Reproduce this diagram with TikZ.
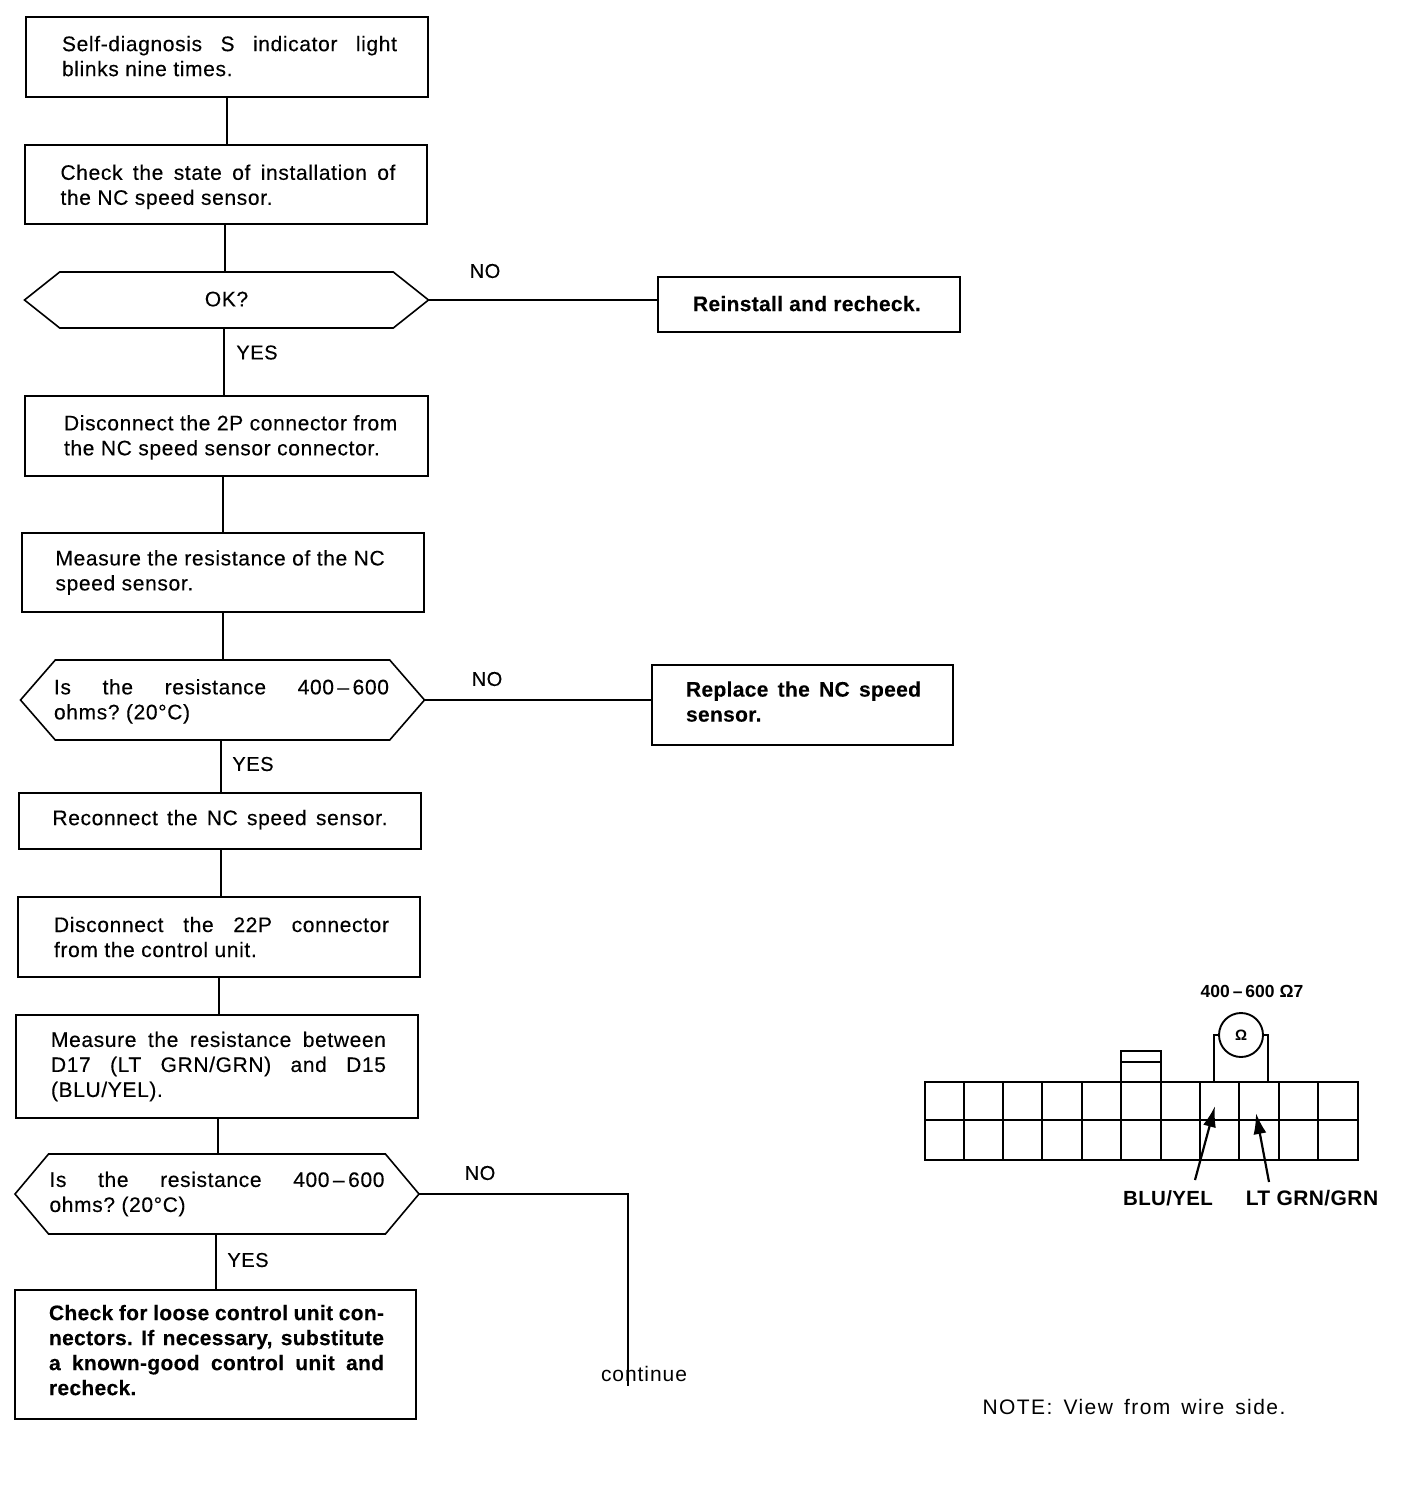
\documentclass[tikz,border=0pt]{standalone}
\usepackage{fontspec}
\setmainfont{Liberation Sans}
\usetikzlibrary{shapes.symbols,arrows.meta}
\newcommand\lineJ[2][0pt]{\hspace*{#1}\makebox[335pt][s]{#2}}
\newcommand\lineL[2][0pt]{\hspace*{#1}\makebox[335pt][l]{#2}}
\newcommand\nudgedown[1]{\rule{0pt}{\dimexpr 16pt+2\dimexpr #1\relax\relax}}
\newcommand\nudgeup[1]{\rule[-\dimexpr 5pt+2\dimexpr #1\relax\relax]{0pt}{\dimexpr 5pt+2\dimexpr #1\relax\relax}}
\newcommand\depthrule[1]{\rule[-#1]{0pt}{#1}}
\tikzset{
  x=1pt,y=-1pt,
  every node/.style={inner sep=0pt,outer sep=0pt},
  txt/.style={font=\fontsize{21}{25}\selectfont\frenchspacing\addfontfeature{LetterSpace=3,FakeBold=0.25}},
  boldtxt/.style={font=\fontsize{21}{25}\selectfont\frenchspacing\bfseries\addfontfeature{LetterSpace=1.5,FakeBold=0.2}},
  stepbox/.style={draw,line width=1.6pt,align=left,txt,minimum width=#1},
  stepbox/.default=402pt,
  hexbox/.style 2 args={draw,line width=1.6pt,align=left,txt,shape=signal,signal to=east and west,signal pointer angle=#2,minimum width=404pt,minimum height=#1},
  link/.style={line width=1.8pt},
  lab/.style={font=\fontsize{20}{25}\selectfont\addfontfeature{LetterSpace=3,FakeBold=0.25}},
  blab/.style={font=\fontsize{20.5}{24}\selectfont\bfseries\addfontfeature{LetterSpace=1.5}},
  grid/.style={line width=1.7pt},
  pointer/.style={line width=2.2pt,-{Latex[length=21pt,width=13pt]}}
}
\begin{document}
\begin{tikzpicture}
\useasboundingbox (0,0) rectangle (1408,1506);
\fill[white] (0,0) rectangle (1408,1506);
% flow boxes
\node[stepbox,minimum height=80pt] (A) at (227,57) {\lineJ[5pt]{Self-diagnosis S indicator light}\\\lineL[5pt]{blinks nine times.}\depthrule{2pt}};
\node[stepbox,minimum height=79pt] (B) at (226,184.5) {\nudgedown{2pt}\lineJ[4pt]{Check the state of installation of}\\\lineL[4pt]{the NC speed sensor.}};
\node[hexbox={56pt}{77}] (C) at (226.5,300) {OK?\depthrule{2pt}};
\node[stepbox=302pt,minimum height=55pt,boldtxt] (D) at (809,304.5) {\makebox[225pt][l]{Reinstall and recheck.}\hspace*{7pt}\depthrule{2pt}};
\node[stepbox=403pt,minimum height=80pt] (E) at (226.5,436) {\nudgedown{1pt}\lineL[10pt]{Disconnect the 2P connector from}\\\lineL[10pt]{the NC speed sensor connector.}};
\node[stepbox,minimum height=79pt] (F) at (223,572.5) {\lineL{Measure the resistance of the NC}\\\lineL{speed sensor.}};
\node[hexbox={80pt}{98}] (G) at (222.5,700) {\nudgedown{1pt}\lineJ[-2pt]{Is the resistance 400\,--\,600}\\\lineL[-2pt]{ohms? (20°C)}};
\node[stepbox=301pt,minimum height=80pt,boldtxt] (H) at (802.5,705) {\hspace*{2pt}\makebox[235pt][s]{Replace the NC speed}\\\hspace*{2pt}\makebox[235pt][l]{sensor.}\nudgeup{1pt}};
\node[stepbox,minimum height=56pt] (I) at (220,821) {\lineJ{Reconnect the NC speed sensor.}\nudgeup{1pt}};
\node[stepbox,minimum height=80pt] (J) at (219,937) {\lineJ[5pt]{Disconnect the 22P connector}\\\lineL[5pt]{from the control unit.}};
\node[stepbox,minimum height=103pt] (K) at (217,1066.5) {\lineJ[3pt]{Measure the resistance between}\\\lineJ[3pt]{D17 (LT GRN/GRN) and D15}\\\lineL[3pt]{(BLU/YEL).}};
\node[hexbox={80pt}{100}] (L) at (217,1194) {\lineJ{Is the resistance 400\,--\,600}\\\lineL{ohms? (20°C)}};
\node[stepbox=401pt,minimum height=129pt,boldtxt] (M) at (215.5,1354.5) {\lineJ[2pt]{Check for loose control unit con-}\\\lineJ[2pt]{nectors. If necessary, substitute}\\\lineJ[2pt]{a known-good control unit and}\\\lineL[2pt]{recheck.}\nudgeup{2pt}};
% labels
\node[lab] (no1) at (485,271) {NO};
\node[lab] (yes1) at (257,352.5) {YES};
\node[lab] (no2) at (487,679) {NO};
\node[lab] (yes2) at (253,764) {YES};
\node[lab] (no3) at (480,1173) {NO};
\node[lab] (yes3) at (248,1260) {YES};
\node[lab,font=\fontsize{21}{25}\selectfont\addfontfeature{LetterSpace=4.5}] (cont) at (644,1374) {continue};
\node[lab,font=\fontsize{21}{25}\selectfont\addfontfeature{LetterSpace=7}] (note) at (1134,1407) {\makebox[303pt][s]{NOTE: View from wire side.}};
\coordinate (contend) at (628,1386);
% connectors
\draw[link] (A.south) -- (A.south |- B.north);
\draw[link] ([xshift=-1pt]B.south) -- ([xshift=-1pt]B.south |- C.north);
\draw[link] ([xshift=-2.5pt]C.south) -- ([xshift=-2.5pt]C.south |- E.north);
\draw[link] (F.north) -- (F.north |- E.south);
\draw[link] (F.south) -- (F.south |- G.north);
\draw[link] ([xshift=-1.5pt]G.south) -- ([xshift=-1.5pt]G.south |- I.north);
\draw[link] ([xshift=1pt]I.south) -- ([xshift=1pt]I.south |- J.north);
\draw[link] (J.south) -- (J.south |- K.north);
\draw[link] ([xshift=1pt]K.south) -- ([xshift=1pt]K.south |- L.north);
\draw[link] ([xshift=-1pt]L.south) -- ([xshift=-1pt]L.south |- M.north);
\draw[link] (C.east) -- (C.east -| D.west);
\draw[link] (G.east) -- (G.east -| H.west);
\draw[link] (L.east) -| (contend);
% connector diagram
\draw[grid] (925,1082) rectangle (1358,1160);
\draw[grid] (925,1120) -- (1358,1120);
\foreach \gx in {964,1003,1042,1082,1121,1161,1200,1239,1279,1318}
  \draw[grid] (\gx,1082) -- (\gx,1160);
\draw[grid] (1121,1082) -- (1121,1051) -- (1161,1051) -- (1161,1082);
\draw[grid] (1121,1062) -- (1161,1062);
\node[draw,circle,line width=1.9pt,minimum size=44pt,font=\fontsize{15}{18}\selectfont\bfseries] (meter) at (1241,1035) {Ω};
\coordinate (leadL) at (1214,1082);
\coordinate (leadR) at (1268,1082);
\draw[grid] (meter.west) -- (meter.west -| leadL) -- (leadL);
\draw[grid] (meter.east) -- (meter.east -| leadR) -- (leadR);
\node[font=\fontsize{17.5}{20}\selectfont\bfseries] (reading) at (1252,991) {400\,--\,600 Ω7};
\node[blab] (blu) at (1168,1198) {BLU/YEL};
\node[blab,font=\fontsize{21}{24}\selectfont\bfseries\addfontfeature{LetterSpace=2}] (grn) at (1312,1198) {LT GRN/GRN};
\coordinate (bluT) at (1215,1106);
\coordinate (grnT) at (1256,1113);
\coordinate (bluS) at (1195,1180);
\coordinate (grnS) at (1269,1182);
\draw[pointer] (bluS) -- (bluT);
\draw[pointer] (grnS) -- (grnT);
\end{tikzpicture}
\end{document}
